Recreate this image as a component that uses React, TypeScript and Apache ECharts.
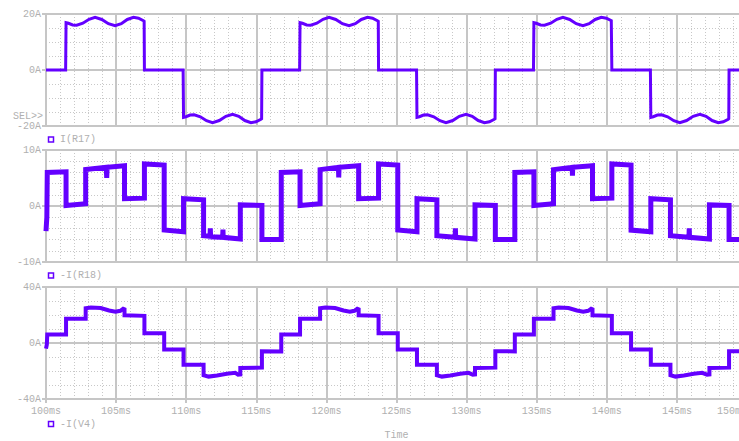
import React, { useEffect, useRef } from 'react';
import * as echarts from 'echarts';

// ---- data ----
const SERIES_NAMES = ['I(R17)', '-I(R18)', '-I(V4)'];
const X_MIN = 100;
const X_MAX = 150;
const X_STEP = 5;
const X_UNIT = 'ms';
const Y_UNIT = 'A';
const Y_RANGES = [20, 10, 40];
const Y_MINOR_SPLITS = [4, 5, 4];
const X_NAME = 'Time';
const SEL_LABEL = 'SEL>>';

const iR17: number[][] = [
  [100, 0], [101.40, 0],
  [101.43, 16.9], [101.6, 16.7], [101.9, 16.1], [102.19, 16.0], [102.63, 16.7], [103.07, 18.1], [103.5, 18.8], [103.98, 18.05], [104.45, 16.55], [104.93, 15.8], [105.37, 16.55], [105.8, 18.05], [106.24, 18.8], [106.6, 18.5], [106.95, 17.6], [107.0, 17.4],
  [107.02, 0], [109.78, 0],
  [109.81, -16.9], [109.98, -16.7], [110.28, -16.1], [110.57, -16.0], [111.01, -16.7], [111.45, -18.1], [111.88, -18.8], [112.36, -18.05], [112.83, -16.55], [113.31, -15.8], [113.75, -16.55], [114.18, -18.05], [114.62, -18.8], [114.98, -18.5], [115.33, -17.6], [115.38, -17.4],
  [115.4, 0], [118.09, 0],
  [118.12, 16.9], [118.29, 16.7], [118.59, 16.1], [118.88, 16.0], [119.32, 16.7], [119.76, 18.1], [120.19, 18.8], [120.67, 18.05], [121.14, 16.55], [121.62, 15.8], [122.06, 16.55], [122.49, 18.05], [122.93, 18.8], [123.29, 18.5], [123.64, 17.6], [123.70, 17.4],
  [123.72, 0], [126.43, 0],
  [126.46, -16.9], [126.63, -16.7], [126.93, -16.1], [127.22, -16.0], [127.66, -16.7], [128.1, -18.1], [128.53, -18.8], [129.01, -18.05], [129.48, -16.55], [129.96, -15.8], [130.4, -16.55], [130.83, -18.05], [131.27, -18.8], [131.63, -18.5], [131.98, -17.6], [132.03, -17.4],
  [132.05, 0], [134.77, 0],
  [134.8, 16.9], [134.97, 16.7], [135.27, 16.1], [135.56, 16.0], [136.0, 16.7], [136.44, 18.1], [136.87, 18.8], [137.35, 18.05], [137.82, 16.55], [138.3, 15.8], [138.74, 16.55], [139.17, 18.05], [139.61, 18.8], [139.97, 18.5], [140.32, 17.6], [140.34, 17.4],
  [140.36, 0], [143.11, 0],
  [143.14, -16.9], [143.31, -16.7], [143.61, -16.1], [143.9, -16.0], [144.34, -16.7], [144.78, -18.1], [145.21, -18.8], [145.69, -18.05], [146.16, -16.55], [146.64, -15.8], [147.08, -16.55], [147.51, -18.05], [147.95, -18.8], [148.31, -18.5], [148.66, -17.6], [148.70, -17.4],
  [148.72, 0], [150, 0],
];

const iR18: number[][] = [
  [100.0, -4.5], [100.06, -2.0], [100.09, 6.0], [101.43, 6.1],
  [101.43, 0.1], [102.83, 0.4],
  [102.83, 6.5], [104.3, 6.9], [104.33, 5.0], [104.36, 6.9], [105.6, 7.2],
  [105.6, 1.3], [107.02, 1.4],
  [107.02, 7.5], [108.43, 7.3],
  [108.43, -4.3], [109.81, -4.6],
  [109.81, 1.3], [111.24, 1.1],
  [111.24, -5.3], [111.7, -5.4], [111.72, -4.0], [111.74, -5.5], [112.6, -5.6], [112.62, -4.2], [112.64, -5.6], [113.86, -5.9],
  [113.86, 0.2], [115.4, 0.1],
  [115.4, -6.0], [116.78, -6.0],
  [116.78, 6.0], [118.12, 6.1],
  [118.12, 0.1], [119.55, 0.4],
  [119.55, 6.5], [120.86, 6.9], [120.88, 5.1], [120.9, 6.9], [122.3, 7.2],
  [122.3, 1.3], [123.72, 1.4],
  [123.72, 7.5], [125.09, 7.3],
  [125.09, -4.3], [126.46, -4.6],
  [126.46, 1.3], [127.88, 1.1],
  [127.88, -5.3], [129.18, -5.6], [129.2, -4.0], [129.22, -5.6], [130.6, -5.9],
  [130.6, 0.2], [132.05, 0.1],
  [132.05, -6.0], [133.44, -6.0],
  [133.44, 6.0], [134.8, 6.1],
  [134.8, 0.1], [136.2, 0.4],
  [136.2, 6.5], [137.53, 6.9], [137.55, 5.4], [137.57, 6.9], [138.98, 7.2],
  [138.98, 1.3], [140.36, 1.4],
  [140.36, 7.5], [141.73, 7.3],
  [141.73, -4.3], [143.14, -4.6],
  [143.14, 1.3], [144.54, 1.1],
  [144.54, -5.3], [145.86, -5.6], [145.88, -4.0], [145.9, -5.6], [147.32, -5.9],
  [147.32, 0.2], [148.72, 0.1],
  [148.72, -6.0], [150, -6.0],
];

const iV4: number[][] = [
  [100, -4.0], [100.06, -1.0], [100.09, 6.0], [101.43, 6.0],
  [101.43, 17.3], [102.83, 17.3],
  [102.83, 24.8], [103.2, 25.3], [103.9, 25.0], [104.5, 23.2], [104.95, 22.3], [105.3, 23.0], [105.5, 24.4], [105.6, 24.0],
  [105.6, 19.8], [107.02, 19.4],
  [107.02, 7.0], [108.43, 7.0],
  [108.43, -4.6], [109.81, -4.6],
  [109.81, -15.5], [111.24, -15.6],
  [111.24, -23.0], [111.6, -24.0], [112.2, -23.2], [112.9, -22.0], [113.5, -21.3], [113.7, -22.6], [113.86, -22.4],
  [113.86, -17.8], [115.4, -17.6],
  [115.4, -5.9], [116.78, -6.0],
  [116.78, 6.0], [118.12, 6.0],
  [118.12, 17.3], [119.55, 17.3],
  [119.55, 24.8], [119.92, 25.3], [120.62, 25.0], [121.22, 23.2], [121.67, 22.3], [122.0, 23.0], [122.2, 24.4], [122.3, 24.0],
  [122.3, 19.8], [123.72, 19.4],
  [123.72, 7.0], [125.09, 7.0],
  [125.09, -4.6], [126.46, -4.6],
  [126.46, -15.5], [127.88, -15.6],
  [127.88, -23.0], [128.24, -24.0], [128.84, -23.2], [129.54, -22.0], [130.14, -21.3], [130.44, -22.6], [130.6, -22.4],
  [130.6, -17.8], [132.05, -17.6],
  [132.05, -5.9], [133.44, -6.0],
  [133.44, 6.0], [134.8, 6.0],
  [134.8, 17.3], [136.2, 17.3],
  [136.2, 24.8], [136.57, 25.3], [137.27, 25.0], [137.87, 23.2], [138.32, 22.3], [138.67, 23.0], [138.88, 24.4], [138.98, 24.0],
  [138.98, 19.8], [140.36, 19.4],
  [140.36, 7.0], [141.73, 7.0],
  [141.73, -4.6], [143.14, -4.6],
  [143.14, -15.5], [144.54, -15.6],
  [144.54, -23.0], [144.9, -24.0], [145.5, -23.2], [146.2, -22.0], [146.8, -21.3], [147.15, -22.6], [147.32, -22.4],
  [147.32, -17.8], [148.72, -17.6],
  [148.72, -5.9], [150, -6.0],
];

const SERIES_DATA = [iR17, iR18, iV4];
const LINE_WIDTHS = [3, 5, 4];

// ---- styles ----
const LINE_COLOR = '#6400ff';
const GRID_COLOR = '#c6c6c6';
const MINOR_COLOR = '#c8c8c8';
const TEXT_COLOR = '#b0b0b0';
const FONT = '"Liberation Mono", "DejaVu Sans Mono", monospace';

const GRID_TOPS = [14, 150, 287];
const GRID_H = 112;
const LEFT = 46;
const RIGHT = -8;
const LEGEND_Y = [139.5, 275.5, 424];

export default function App() {
  const ref = useRef<HTMLDivElement>(null);

  useEffect(() => {
    if (!ref.current) return;
    const chart = echarts.init(ref.current, undefined, { renderer: 'svg' });
    const major = { color: GRID_COLOR, width: 2 };
    const minor = { color: MINOR_COLOR, width: 1, type: [1, 2] as any };

    const grid = GRID_TOPS.map((top) => ({
      left: LEFT,
      right: RIGHT,
      top,
      height: GRID_H,
      containLabel: false,
      outerBoundsMode: 'none',
    }));

    const xAxis = GRID_TOPS.map((_, i) => {
      const last = i === GRID_TOPS.length - 1;
      return {
        type: 'value',
        gridIndex: i,
        min: X_MIN,
        max: X_MAX,
        interval: X_STEP,
        name: last ? X_NAME : '',
        nameLocation: 'middle',
        nameGap: 31,
        nameTextStyle: { color: TEXT_COLOR, fontFamily: FONT, fontSize: 10 },
        axisLine: { show: last, onZero: false, lineStyle: major },
        axisTick: { show: last, length: 4, lineStyle: major },
        axisLabel: {
          show: last,
          formatter: (v: number) => `${v}${X_UNIT}`,
          color: TEXT_COLOR,
          fontFamily: FONT,
          fontSize: 10,
          margin: 7,
          showMaxLabel: true,
          alignMaxLabel: 'right',
        },
        splitLine: { show: true, lineStyle: major },
        minorTick: { show: false, splitNumber: 5 },
        minorSplitLine: { show: true, lineStyle: minor },
      };
    });

    const yAxis = Y_RANGES.map((r, i) => ({
      type: 'value',
      gridIndex: i,
      min: -r,
      max: r,
      interval: r,
      axisLine: { show: true, onZero: false, lineStyle: major },
      axisTick: { show: true, length: 4, lineStyle: major },
      axisLabel: {
        formatter: (v: number) => `${v}${Y_UNIT}`,
        color: TEXT_COLOR,
        fontFamily: FONT,
        fontSize: 10,
        margin: 5,
      },
      splitLine: { show: true, lineStyle: major },
      minorTick: { show: false, splitNumber: Y_MINOR_SPLITS[i] },
      minorSplitLine: { show: true, lineStyle: minor },
    }));

    const series = SERIES_DATA.map((d, i) => ({
      type: 'line',
      name: SERIES_NAMES[i],
      xAxisIndex: i,
      yAxisIndex: i,
      data: d,
      showSymbol: false,
      symbol: 'none',
      lineStyle: { color: LINE_COLOR, width: LINE_WIDTHS[i], join: 'miter' },
      itemStyle: { color: LINE_COLOR },
      clip: true,
    }));

    const graphic: any[] = [];
    SERIES_NAMES.forEach((name, i) => {
      graphic.push({
        type: 'rect',
        shape: { x: 48.5, y: LEGEND_Y[i] - 2.5, width: 5, height: 5 },
        style: { fill: '#fff', stroke: LINE_COLOR, lineWidth: 1.5 },
      });
      graphic.push({
        type: 'text',
        x: 60,
        y: LEGEND_Y[i],
        style: {
          text: name,
          fill: TEXT_COLOR,
          font: `10px ${FONT}`,
          verticalAlign: 'middle',
          align: 'left',
        },
      });
    });
    graphic.push({
      type: 'text',
      x: 13,
      y: 116,
      style: {
        text: SEL_LABEL,
        fill: TEXT_COLOR,
        font: `10px ${FONT}`,
        verticalAlign: 'middle',
        align: 'left',
      },
    });

    chart.setOption({
      animation: false,
      backgroundColor: '#ffffff',
      grid,
      xAxis,
      yAxis,
      series,
      graphic,
    } as any);

    return () => chart.dispose();
  }, []);

  return (
    <div
      ref={ref}
      style={{ position: 'fixed', left: 0, top: 0, width: 739, height: 441, background: '#fff' }}
    />
  );
}
